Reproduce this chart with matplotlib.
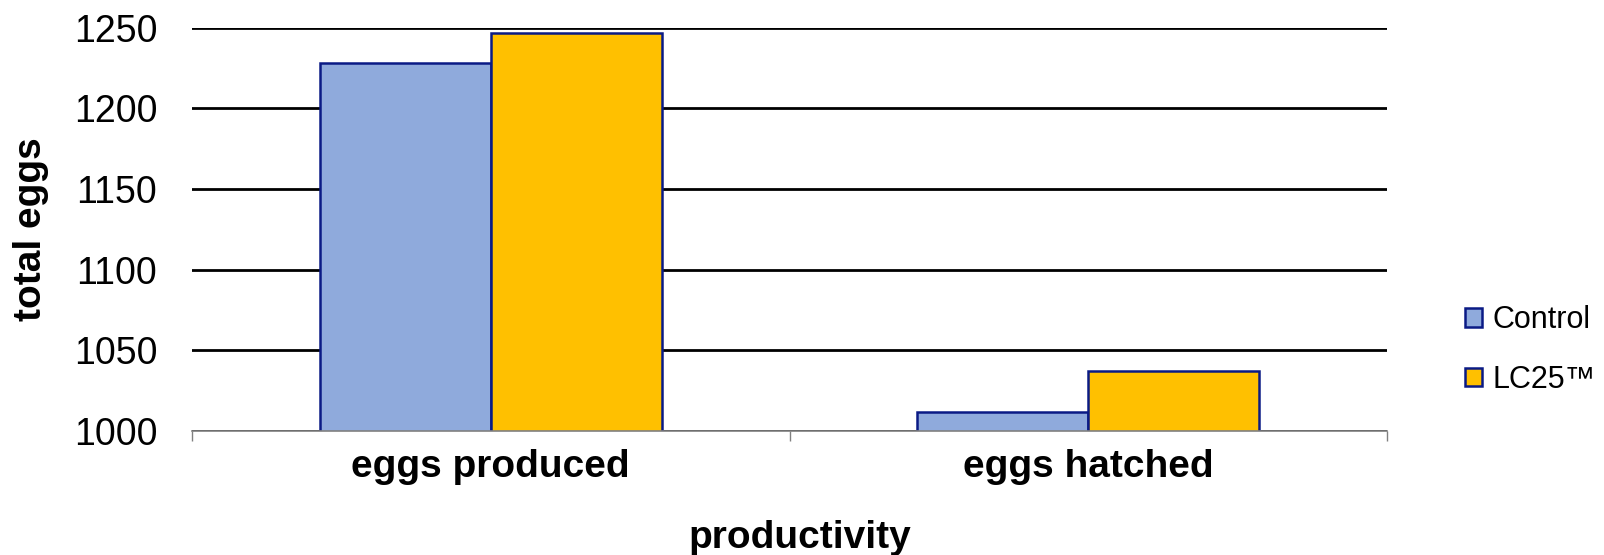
import matplotlib.pyplot as plt
from matplotlib.patches import Patch
import numpy as np

categories = ["eggs produced", "eggs hatched"]
series_names = ["Control", "LC25™"]
control = [1228, 1012]
lc25 = [1247, 1037]
yticks = [1000, 1050, 1100, 1150, 1200, 1250]

colours = ["#8FAADC", "#FFC000"]
edge = "#0A1A85"

plt.rcParams['font.family'] = ['Liberation Sans', 'DejaVu Sans']

fig = plt.figure(figsize=(16.04, 5.55), dpi=100)
# axes box in pixels: left 192, right 1387, top 27.7, bottom 431
W, H = 1604, 555
ax = fig.add_axes([192 / W, 1 - 431 / H, (1387 - 192) / W, (431 - 27.7) / H])

x = np.arange(len(categories))
w = 0.286
ax.bar(x - w / 2, control, w, color=colours[0], edgecolor=edge, linewidth=1.8, zorder=3)
ax.bar(x + w / 2, lc25, w, color=colours[1], edgecolor=edge, linewidth=1.8, zorder=3)

ax.set_ylim(1000, 1250)
ax.set_xlim(-0.5, 1.5)
ax.set_yticks(yticks)
ax.yaxis.grid(True, color="black", linewidth=2, zorder=0)
ax.set_axisbelow(True)
for s in ["top", "right", "left"]:
    ax.spines[s].set_visible(False)
ax.spines["bottom"].set_color("#808080")
ax.spines["bottom"].set_linewidth(1.2)
ax.spines["bottom"].set_zorder(4)

ax.set_xticks(x)
ax.set_xticklabels(categories, fontsize=28, fontweight="bold")
ax.set_xticks([-0.5, 0.5, 1.5], minor=True)
ax.tick_params(axis="x", which="major", length=0, pad=13)
ax.tick_params(axis="x", which="minor", length=7, width=1, color="#808080")
ax.tick_params(axis="y", length=0, pad=25, labelsize=27)

ax.set_ylabel("total eggs", fontsize=28, fontweight="bold", labelpad=18)
fig.text(800 / W, 1 - 538 / H, "productivity", fontsize=28, fontweight="bold",
         ha="center", va="center")

handles = [Patch(facecolor=colours[i], edgecolor=edge, linewidth=1.8) for i in range(2)]
fig.legend(handles, series_names, loc="center left", bbox_to_anchor=(1465 / W, 1 - 350 / H),
           fontsize=22, frameon=False, handlelength=0.55, handleheight=0.55,
           handletextpad=0.35, labelspacing=0.95, borderpad=0, borderaxespad=0)

fig.savefig("out.png", dpi=100)
